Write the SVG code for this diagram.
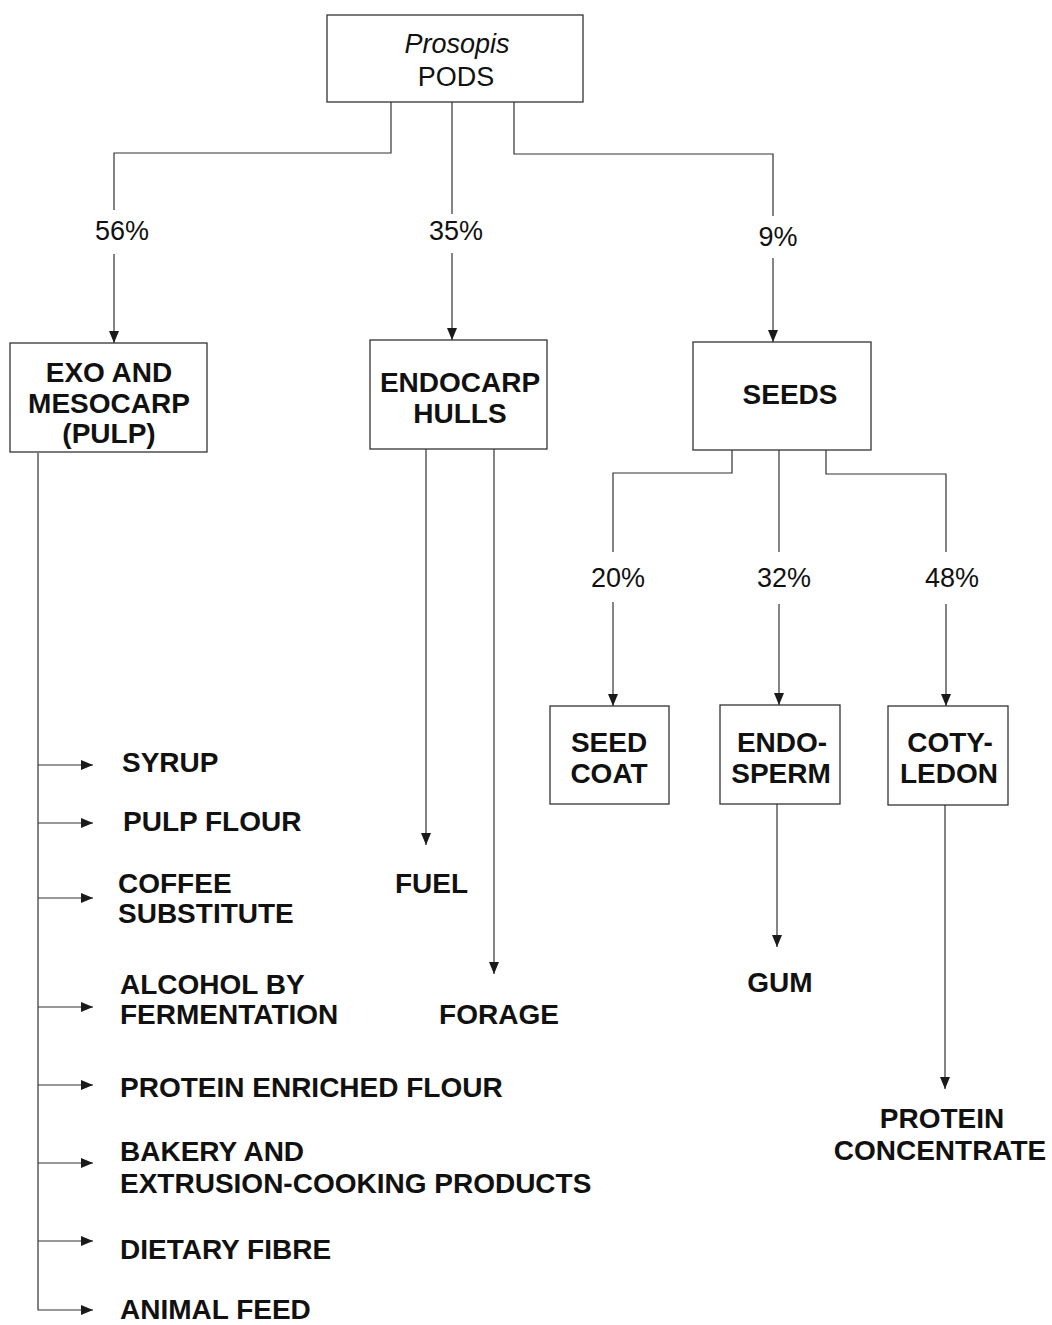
<svg xmlns="http://www.w3.org/2000/svg" width="1052" height="1325" viewBox="0 0 1052 1325">
<defs>
<marker id="ah" markerUnits="userSpaceOnUse" markerWidth="14" markerHeight="12" refX="12" refY="6" orient="auto">
<path d="M0,1 L12,6 L0,11 z" fill="#1a1a1a"/>
</marker>
<style>
.box{fill:#fff;stroke:#333;stroke-width:1.3}
.ln{fill:none;stroke:#333;stroke-width:1.2}
.arr{fill:none;stroke:#333;stroke-width:1.2;marker-end:url(#ah)}
.t{font-family:"Liberation Sans",Arial,sans-serif;font-size:28px;font-weight:bold;fill:#111}
.c{text-anchor:middle}
.p{font-family:"Liberation Sans",Arial,sans-serif;font-size:27px;fill:#111;text-anchor:middle}
</style>
</defs>
<rect width="1052" height="1325" fill="#fff"/>

<g id="connectors">
<path class="ln" d="M391,102 V153 H114 V210"/>
<path class="arr" d="M114,254 V343"/>
<path class="ln" d="M452,102 V214"/>
<path class="arr" d="M452,253 V340"/>
<path class="ln" d="M514,102 V154 H773 V216"/>
<path class="arr" d="M773,258 V342"/>
<path class="ln" d="M732,450 V473 H613 V552"/>
<path class="arr" d="M613,602 V706"/>
<path class="ln" d="M779,450 V552"/>
<path class="arr" d="M779,604 V705"/>
<path class="ln" d="M826,450 V474 H946 V552"/>
<path class="arr" d="M946,604 V706"/>
<path class="arr" d="M426,449 V845"/>
<path class="arr" d="M494,449 V974"/>
<path class="arr" d="M777,804 V947"/>
<path class="arr" d="M945,805 V1089"/>
<path class="arr" d="M38,453 V1310 H93"/>
<path class="arr" d="M38,765 H93"/>
<path class="arr" d="M38,823 H93"/>
<path class="arr" d="M38,898 H93"/>
<path class="arr" d="M38,1007 H93"/>
<path class="arr" d="M38,1085 H93"/>
<path class="arr" d="M38,1163 H93"/>
<path class="arr" d="M38,1241 H93"/>
</g>

<g id="labels">
<text class="p" x="122" y="240">56%</text>
<text class="p" x="456" y="240">35%</text>
<text class="p" x="778" y="246">9%</text>
<text class="p" x="618" y="587">20%</text>
<text class="p" x="784" y="587">32%</text>
<text class="p" x="952" y="587">48%</text>
</g>

<g id="pods">
<rect class="box" x="327" y="15" width="256" height="87"/>
<text class="p" x="457" y="53" font-style="italic" font-size="29">Prosopis</text>
<text class="p" x="456" y="86" font-size="28">PODS</text>
</g>

<g id="pulp">
<rect class="box" x="10" y="343" width="197" height="109"/>
<text class="t c" x="109" y="382">EXO AND</text>
<text class="t c" x="109" y="413">MESOCARP</text>
<text class="t c" x="109" y="443">(PULP)</text>
</g>

<g id="hulls">
<rect class="box" x="370" y="340" width="177" height="109"/>
<text class="t c" x="460" y="392">ENDOCARP</text>
<text class="t c" x="460" y="423">HULLS</text>
</g>

<g id="seeds">
<rect class="box" x="693" y="342" width="178" height="108"/>
<text class="t c" x="790" y="404">SEEDS</text>
</g>

<g id="seedcoat">
<rect class="box" x="550" y="706" width="119" height="98"/>
<text class="t c" x="609" y="752">SEED</text>
<text class="t c" x="609" y="783">COAT</text>
</g>

<g id="endosperm">
<rect class="box" x="720" y="705" width="120" height="99"/>
<text class="t c" x="782" y="752">ENDO-</text>
<text class="t c" x="781" y="783">SPERM</text>
</g>

<g id="cotyledon">
<rect class="box" x="888" y="706" width="120" height="99"/>
<text class="t c" x="950" y="752">COTY-</text>
<text class="t c" x="949" y="783">LEDON</text>
</g>

<g id="syrup"><text class="t" x="122" y="772">SYRUP</text></g>
<g id="pulpflour"><text class="t" x="123" y="831">PULP FLOUR</text></g>
<g id="coffee"><text class="t" x="118" y="893">COFFEE</text><text class="t" x="118" y="923">SUBSTITUTE</text></g>
<g id="alcohol"><text class="t" x="120" y="994">ALCOHOL BY</text><text class="t" x="120" y="1024">FERMENTATION</text></g>
<g id="proteinflour"><text class="t" x="120" y="1097">PROTEIN ENRICHED FLOUR</text></g>
<g id="bakery"><text class="t" x="120" y="1161">BAKERY AND</text><text class="t" x="120" y="1193">EXTRUSION-COOKING PRODUCTS</text></g>
<g id="fibre"><text class="t" x="120" y="1259">DIETARY FIBRE</text></g>
<g id="feed"><text class="t" x="120" y="1319">ANIMAL FEED</text></g>
<g id="fuel"><text class="t" x="395" y="893">FUEL</text></g>
<g id="forage"><text class="t c" x="499" y="1024">FORAGE</text></g>
<g id="gum"><text class="t c" x="780" y="992">GUM</text></g>
<g id="proteinconc"><text class="t c" x="942" y="1128">PROTEIN</text><text class="t c" x="940" y="1160">CONCENTRATE</text></g>
</svg>
